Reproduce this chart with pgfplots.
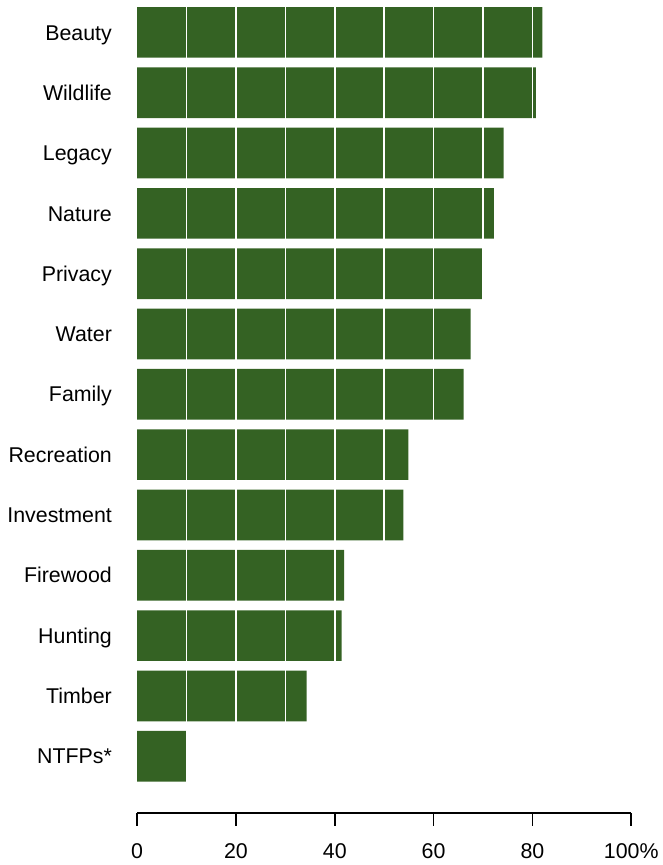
\documentclass[border=0pt]{standalone}
\usepackage{fontspec}
\setmainfont{Liberation Sans}
\usepackage{pgfplots}
\pgfplotsset{compat=1.18}
\definecolor{barfill}{RGB}{52,98,35}

\begin{document}
\begin{tikzpicture}
\begin{axis}[
    at={(0,0)}, anchor=south west,
    scale only axis,
    width=370.1pt, height=609pt,
    xbar, bar width=0.84,
    xmin=0, xmax=100,
    ymin=-0.94, ymax=12.537,
    axis x line*=bottom,
    axis y line*=left,
    y axis line style={draw=none},
    x axis line style={line width=1.1pt},
    xtick={0,20,40,60,80,100},
    xticklabels={0,20,40,60,80,100\%},
    x tick style={line width=1.1pt, black},
    tick align=outside,
    major tick length=9.75pt,
    ytick={0,...,12},
    yticklabels={NTFPs*,Timber,Hunting,Firewood,Investment,Recreation,Family,Water,Privacy,Nature,Legacy,Wildlife,Beauty},
    y tick style={draw=none},
    tick label style={font=\fontsize{16}{19}\selectfont},
    y tick label style={anchor=east, inner sep=0pt, text height=11.5pt, text depth=0pt, xshift=-9pt},
    x tick label style={yshift=-10pt},
    /pgf/number format/assume math mode=true,
    clip=false,
]
\addplot[fill=barfill, draw=none] coordinates {
    (9.9,0)
    (34.3,1)
    (41.4,2)
    (41.9,3)
    (53.9,4)
    (54.9,5)
    (66.1,6)
    (67.5,7)
    (69.8,8)
    (72.2,9)
    (74.2,10)
    (80.7,11)
    (82.0,12)
};
% white gridlines over the bars
\foreach \gx in {10,20,...,90} {
    \edef\tmp{\noexpand\draw[white, line width=1.3pt] (axis cs:\gx,-0.5) -- (axis cs:\gx,12.5);}
    \tmp
}
\end{axis}
\path (-102.75pt,-39pt) rectangle (390pt,609pt);
\end{tikzpicture}
\end{document}
